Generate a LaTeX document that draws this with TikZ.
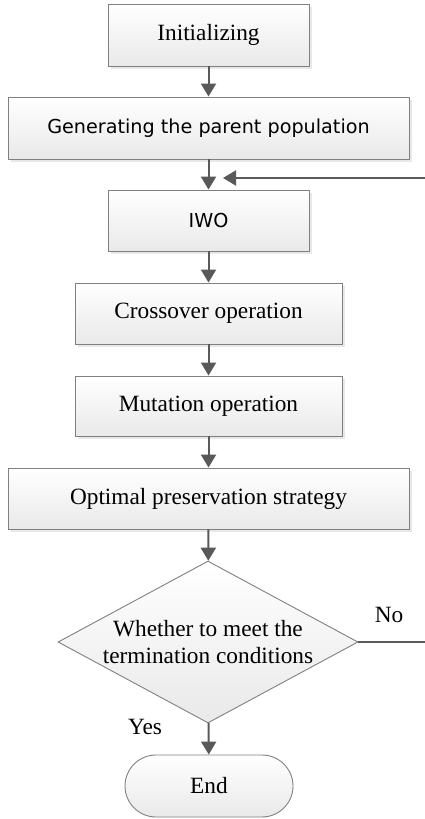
\documentclass[tikz,border=0pt]{standalone}
\usepackage{fontspec}
\setmainfont{Liberation Serif}
\newfontfamily\boxsans{DejaVu Sans}
\usetikzlibrary{shapes.geometric,shadows,arrows.meta}
\definecolor{linegray}{HTML}{595959}
\definecolor{edgegray}{HTML}{808080}
\definecolor{shadegray}{HTML}{E9E9E9}
\newcommand{\seriftext}{\fontsize{23.3}{27}\selectfont}
\newcommand{\sanstext}{\boxsans\fontsize{19.2}{23}\selectfont}
\begin{document}
\begin{tikzpicture}[x=1pt,y=-1pt,
  procbox/.style={draw=edgegray, line width=0.9pt, top color=white, bottom color=shadegray,
    inner sep=0pt, align=center, font=\seriftext,
    drop shadow={shadow xshift=3pt, shadow yshift=-3pt, fill=black, opacity=0.09}},
  decision/.style={diamond, draw=edgegray, line width=0.9pt, top color=white, bottom color=shadegray,
    inner sep=0pt, aspect=1.85, align=center, font=\seriftext},
  terminal/.style={draw=edgegray, line width=0.9pt, top color=white, bottom color=shadegray,
    rounded corners=31pt, inner sep=0pt, font=\seriftext},
  flow/.style={draw=linegray, line width=2pt, -{Triangle[length=13pt,width=15pt]}},
  branch/.style={font=\seriftext}]
\useasboundingbox (0,0) rectangle (424,819);

\node[procbox, minimum width=201pt, minimum height=62pt] (init) at (208.5,35) {Initializing};
\node[procbox, minimum width=401pt, minimum height=62pt, font=\sanstext] (gen) at (208.5,128) {Generating the parent population};
\node[procbox, minimum width=201pt, minimum height=61pt, font=\sanstext] (iwo) at (208.5,220.5) {IWO};
\node[procbox, minimum width=267pt, minimum height=61pt] (cross) at (208.5,313.5) {Crossover operation};
\node[procbox, minimum width=267pt, minimum height=60pt] (mut) at (208.5,406) {Mutation operation};
\node[procbox, minimum width=401pt, minimum height=61pt] (opt) at (208.5,498.5) {Optimal preservation strategy};
\node[decision, minimum width=300pt, minimum height=162pt] (cond) at (208,642) {Whether to meet the\\termination conditions};
\node[terminal, minimum width=168pt, minimum height=62pt] (end) at (209,786) {End};

\node[branch] (no) at (389,615) {No};
\node[branch] (yes) at (145,727) {Yes};

\coordinate (fbtip) at (223,178);
\coordinate (fbout) at (430,642);
\coordinate (fbup) at (430,178);

\draw[flow] (init) -- (gen);
\draw[flow] (gen) -- (iwo);
\draw[flow] (iwo) -- (cross);
\draw[flow] (cross) -- (mut);
\draw[flow] (mut) -- (opt);
\draw[flow] (opt) -- (cond);
\draw[flow] (cond) -- (end);
\draw[flow] (cond.east) -- (fbout) -- (fbup) -- (fbtip);
\end{tikzpicture}
\end{document}
